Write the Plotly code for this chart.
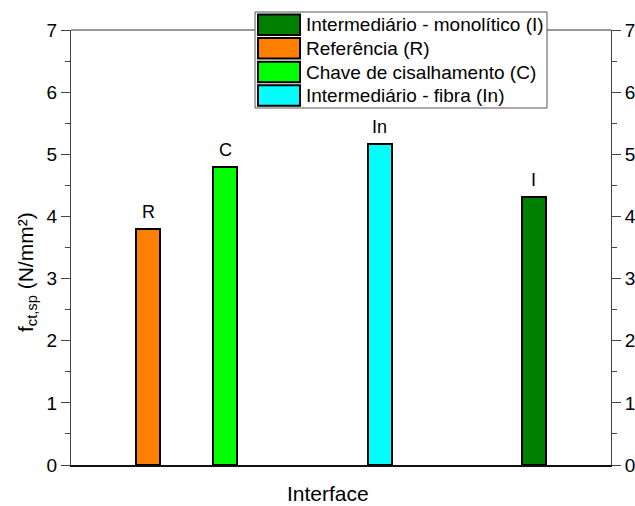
import plotly.graph_objects as go

# Splitting tensile strength per interface type
categories = ["R", "C", "In", "I"]
series_names = [
    "Referência (R)",
    "Chave de cisalhamento (C)",
    "Intermediário - fibra (In)",
    "Intermediário - monolítico (I)",
]
x_positions = [1, 2, 4, 6]
values = [3.79, 4.80, 5.16, 4.32]
colors = ["#FF8000", "#00FF00", "#00FFFF", "#008000"]
legend_order = ["I", "R", "C", "In"]
y_ticks = [0, 1, 2, 3, 4, 5, 6, 7]

FONT = "Liberation Sans, Arial, sans-serif"

fig = go.Figure()
for cat, name, xp, val, col in zip(categories, series_names, x_positions, values, colors):
    fig.add_trace(go.Bar(
        x=[xp], y=[val], name=name,
        width=0.31,
        marker=dict(color=col, line=dict(color="black", width=2)),
        showlegend=False,
    ))

# invisible trace to carry the right-hand axis
fig.add_trace(go.Scatter(x=[None], y=[None], yaxis="y2", showlegend=False, hoverinfo="skip"))

W, H = 635, 506
ML, MR, MT, MB = 71, 24, 30, 41
pw, ph = W - ML - MR, H - MT - MB

def px_x(px):
    return (px - ML) / pw

def px_y(py):
    return (H - MB - py) / ph

shapes = []
annotations = []

# category labels above each bar
for cat, xp, val in zip(categories, x_positions, values):
    annotations.append(dict(x=xp, y=val, xref="x", yref="y", text=cat, showarrow=False,
                            xanchor="center", yanchor="bottom", yshift=5,
                            font=dict(family=FONT, size=18, color="black")))

# axis titles
annotations.append(dict(xref="paper", yref="paper", x=px_x(328), y=px_y(493), text="Interface",
                        showarrow=False, xanchor="center", yanchor="middle",
                        font=dict(family=FONT, size=21, color="black")))
annotations.append(dict(xref="paper", yref="paper", x=px_x(27), y=px_y(272),
                        text="f<sub>ct,sp</sub> (N/mm²)", textangle=-90,
                        showarrow=False, xanchor="center", yanchor="middle",
                        font=dict(family=FONT, size=21, color="black")))

# top frame line
shapes.append(dict(type="line", xref="paper", yref="paper", x0=0, x1=1, y0=1, y1=1,
                   line=dict(color="#333333", width=1), layer="below"))

# legend box
lx0, lx1, ly0, ly1 = 255, 547, 12, 108
shapes.append(dict(type="rect", xref="paper", yref="paper",
                   x0=px_x(lx0), x1=px_x(lx1), y0=px_y(ly1), y1=px_y(ly0),
                   fillcolor="white", line=dict(color="#555555", width=1), layer="above"))
row_h = 23.6
for i, cat in enumerate(legend_order):
    k = categories.index(cat)
    top = 14.5 + i * row_h
    shapes.append(dict(type="rect", xref="paper", yref="paper",
                       x0=px_x(258), x1=px_x(300), y0=px_y(top + 20.5), y1=px_y(top),
                       fillcolor=colors[k], line=dict(color="black", width=2), layer="above"))
    annotations.append(dict(xref="paper", yref="paper", x=px_x(304), y=px_y(top + 10.5),
                            text=series_names[k], showarrow=False, xanchor="left", yanchor="middle",
                            font=dict(family=FONT, size=19, color="black")))

axis_common = dict(range=[0, 7], tickvals=y_ticks, showgrid=False, zeroline=False,
                   showline=True, linecolor="#444444", linewidth=1,
                   ticks="outside", ticklen=9, tickcolor="#444444", tickwidth=1,
                   minor=dict(dtick=0.5, ticks="outside", ticklen=5, tickcolor="#444444", tickwidth=1),
                   tickfont=dict(family=FONT, size=19), automargin=False)

fig.update_layout(
    width=W, height=H,
    margin=dict(l=ML, r=MR, t=MT, b=MB, autoexpand=False),
    paper_bgcolor="white", plot_bgcolor="white",
    font=dict(family=FONT, color="black"),
    bargap=0,
    xaxis=dict(range=[0, 7], showgrid=False, zeroline=False, showticklabels=False, ticks="",
               showline=True, linecolor="#111111", linewidth=2, automargin=False),
    yaxis=dict(**axis_common),
    yaxis2=dict(**axis_common, overlaying="y", side="right"),
    shapes=shapes,
    annotations=annotations,
)

fig.write_html("out.html")
